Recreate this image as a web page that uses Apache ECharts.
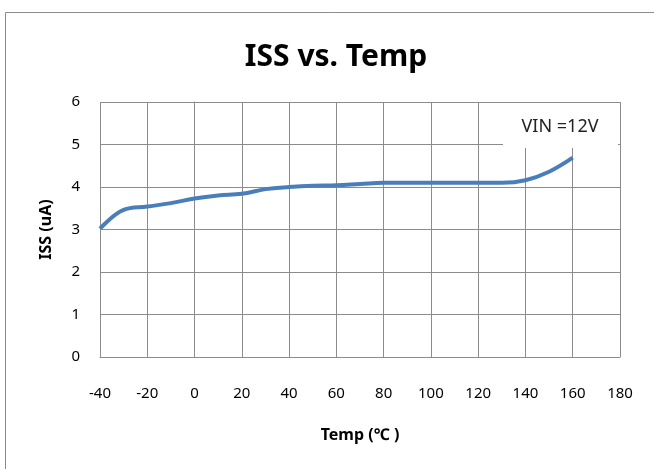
<!DOCTYPE html>
<html>
<head>
<meta charset="utf-8">
<script src="https://cdn.jsdelivr.net/npm/echarts@6/dist/echarts.min.js"></script>
<style>
html,body{margin:0;padding:0;background:#fff;}
#c{width:654px;height:469px;}
</style>
</head>
<body>
<div id="c"></div>
<script>
var temps = [-40, -30, -20, -10, 0, 10, 20, 30, 40, 50, 60, 70, 80, 90, 100, 110, 120, 130, 140, 150, 160];
var issValues = [3.02, 3.46, 3.54, 3.62, 3.73, 3.8, 3.84, 3.95, 4.0, 4.03, 4.04, 4.07, 4.1, 4.1, 4.1, 4.1, 4.1, 4.1, 4.16, 4.36, 4.69];
var titleText = 'ISS vs. Temp';
var xName = 'Temp (\u2103 )';
var yName = 'ISS (uA)';
var noteText = 'VIN =12V';

var chart = echarts.init(document.getElementById('c'), null, {renderer: 'canvas'});
var fontFam = '"Noto Sans", "DejaVu Sans", sans-serif';
chart.setOption({
  animation: false,
  backgroundColor: '#fff',
  title: {
    text: titleText,
    left: 331, top: 37, textAlign: 'center',
    textStyle: {fontFamily: fontFam, fontSize: 30, fontWeight: 'bold', color: '#000'}
  },
  grid: {left: 100, right: 34, top: 102, bottom: 112, containLabel: false},
  xAxis: {
    type: 'value', min: -40, max: 180, interval: 20,
    name: xName, nameLocation: 'middle', nameGap: 70,
    nameTextStyle: {fontFamily: fontFam, fontSize: 16, fontWeight: 'bold', color: '#000'},
    axisLine: {show: true, lineStyle: {color: '#8c8c8c', width: 1}},
    axisTick: {show: false},
    axisLabel: {margin: 29, fontFamily: fontFam, fontSize: 15, color: '#000'},
    splitLine: {show: true, lineStyle: {color: '#8c8c8c', width: 1}}
  },
  yAxis: {
    type: 'value', min: 0, max: 6, interval: 1,
    name: yName, nameLocation: 'middle', nameGap: 46, nameRotate: 90,
    nameTextStyle: {fontFamily: fontFam, fontSize: 16, fontWeight: 'bold', color: '#000'},
    axisLine: {show: true, lineStyle: {color: '#8c8c8c', width: 1}},
    axisTick: {show: false},
    axisLabel: {margin: 20, fontFamily: fontFam, fontSize: 15, color: '#000'},
    splitLine: {show: true, lineStyle: {color: '#8c8c8c', width: 1}}
  },
  series: [{
    type: 'line',
    data: temps.map(function (t, i) { return [t, issValues[i]]; }),
    smooth: 0.4,
    showSymbol: false,
    lineStyle: {color: '#4a7ebb', width: 4}
  }],
  graphic: [
    {type: 'rect', shape: {x: 5.5, y: 12.5, width: 700, height: 500}, style: {fill: 'none', stroke: '#8c8c8c', lineWidth: 1}, z: 100},
    {type: 'rect', shape: {x: 503, y: 103, width: 115, height: 45}, style: {fill: '#fff'}, z: 50},
    {type: 'text', x: 560, y: 127, style: {text: noteText, fontFamily: fontFam, fontSize: 18, fill: '#222', align: 'center', verticalAlign: 'middle'}, z: 51}
  ]
});
</script>
</body>
</html>
